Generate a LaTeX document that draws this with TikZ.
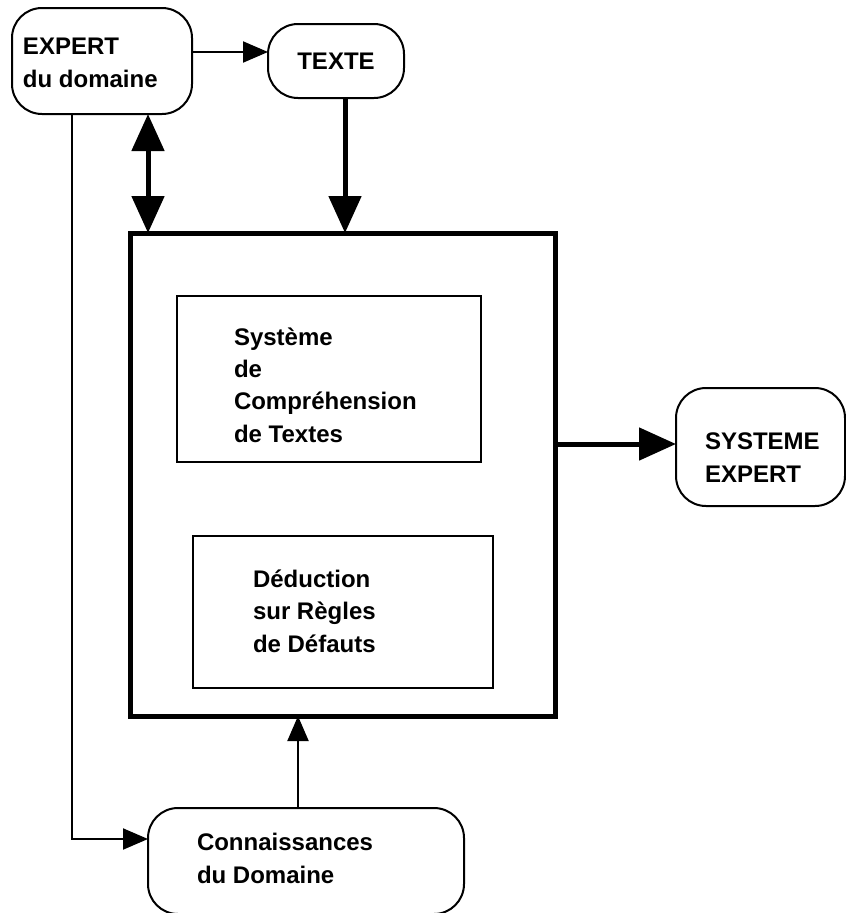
\documentclass[tikz,border=0pt]{standalone}
\usepackage{fontspec}
\setmainfont{Liberation Sans}
\usepackage{tikz}
\usetikzlibrary{arrows.meta,positioning}
\tikzset{
  every node/.style={font=\fontsize{24}{32.3}\selectfont\bfseries,inner sep=0pt,outer sep=0pt},
  txt/.style={align=left,anchor=base west},
  rbox/.style={draw,line width=2pt,rounded corners=30pt,anchor=north west,align=center},
  cadre/.style={draw,line width=5pt,anchor=north west},
  sousbox/.style={draw,line width=2pt,anchor=north west},
  fine/.style={-{Triangle[length=25pt,width=21pt]},line width=2pt},
  epais/.style={-{Triangle[length=37pt,width=32pt]},line width=5pt},
  epaisdouble/.style={{Triangle[length=37pt,width=32pt]}-{Triangle[length=37pt,width=32pt]},line width=5pt}
}

\begin{document}
\begin{tikzpicture}[x=1pt,y=-1pt]
  \useasboundingbox (0,0) rectangle (846,913);

  \node[rbox,minimum width=180pt,minimum height=106pt] (expert) at (12,8) {};
  \node[txt] (experttxt) at (23,87) {EXPERT\\du domaine};
  \node[rbox,minimum width=136pt,minimum height=74pt] (texte) at (268,24) {TEXTE};

  \node[cadre,minimum width=425pt,minimum height=483pt] (cadre) at (130,233) {};
  \node[sousbox,minimum width=304pt,minimum height=166pt] (comprehension) at (177,296) {};
  \node[txt] (comprehensiontxt) at (234,442) {Système\\de\\Compréhension\\de Textes};
  \node[sousbox,minimum width=300pt,minimum height=152pt] (deduction) at (193,536) {};
  \node[txt] (deductiontxt) at (253,652) {Déduction\\sur Règles\\de Défauts};

  \node[rbox,minimum width=169pt,minimum height=118pt] (systeme) at (676,388) {};
  \node[txt] (systemetxt) at (705,482) {SYSTEME\\EXPERT};

  \node[rbox,minimum width=316pt,minimum height=106pt] (connaiss) at (148,808) {};
  \node[txt] (connaisstxt) at (197,883) {Connaissances\\du Domaine};

  \draw[fine] ([yshift=9pt]expert.east) -- ([yshift=9pt]texte.west);
  \draw[epais] ([xshift=9pt]texte.south) -- ([xshift=9pt]texte.south |- cadre.north);
  \draw[epaisdouble] ([xshift=18pt]cadre.north west |- expert.south) -- ([xshift=18pt]cadre.north west);
  \draw[epais] ([yshift=3pt]cadre.east |- systeme.west) -- ([yshift=3pt]systeme.west);
  \draw[fine] ([xshift=-30pt]expert.south) |- ([yshift=22pt]connaiss.west);
  \draw[fine] ([xshift=-8pt]connaiss.north) -- ([xshift=-8pt]connaiss.north |- cadre.south);
\end{tikzpicture}
\end{document}
